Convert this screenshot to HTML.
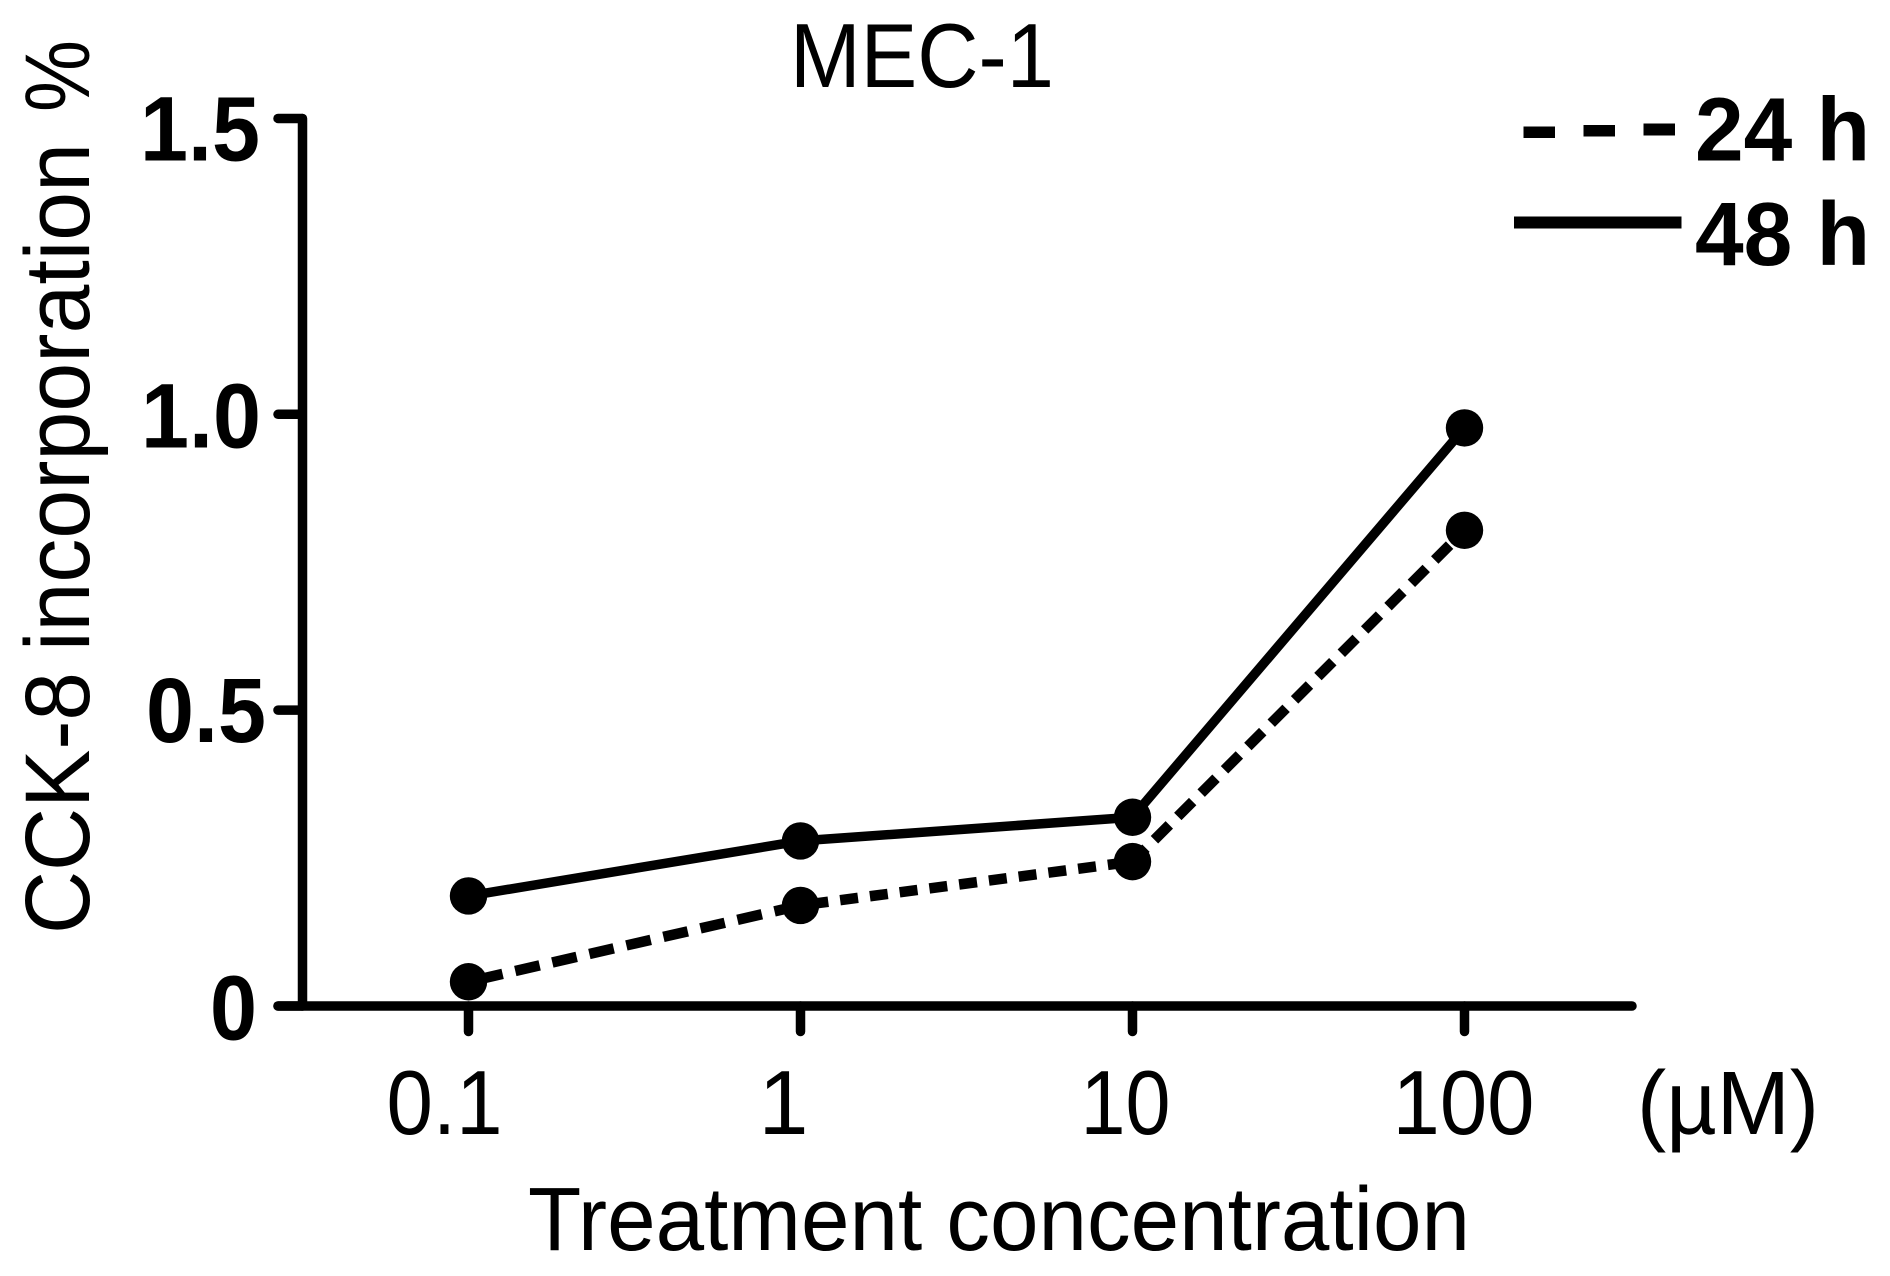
<!DOCTYPE html>
<html lang="en">
<head>
<meta charset="utf-8">
<title>MEC-1 CCK-8 incorporation</title>
<style>
html,body{margin:0;padding:0;background:#fff;width:1890px;height:1276px;overflow:hidden}
svg{display:block}
text{font-family:"Liberation Sans",Arial,sans-serif;fill:#000}
.bold{font-weight:700}
</style>
</head>
<body>
<svg id="chart" xmlns="http://www.w3.org/2000/svg" width="1890" height="1276" viewBox="0 0 1890 1276">
  <rect width="1890" height="1276" fill="#fff"/>
  <text x="790" y="87" font-size="90.5" textLength="264" lengthAdjust="spacingAndGlyphs">MEC-1</text>
  <text transform="translate(89,934) rotate(-90)" font-size="92"><tspan x="0" textLength="262" lengthAdjust="spacingAndGlyphs">CCK-8</tspan><tspan x="283" textLength="508" lengthAdjust="spacingAndGlyphs">incorporation</tspan><tspan x="822" textLength="72" lengthAdjust="spacingAndGlyphs">%</tspan></text>
  <text x="528" y="1250" font-size="90" textLength="942" lengthAdjust="spacingAndGlyphs">Treatment concentration</text>
  <text x="1637" y="1134" font-size="90" textLength="182" lengthAdjust="spacingAndGlyphs">(µM)</text>
  <g id="axes"></g>
  <g id="series"></g>
  <g>
    <g>
      <rect x="1523.5" y="126.5" width="31.5" height="11.5"/>
      <rect x="1583.5" y="125" width="31.5" height="11.5"/>
      <rect x="1643.5" y="123.5" width="31.5" height="12"/>
      <text class="bold" x="1695" y="160.5" font-size="90" textLength="175" lengthAdjust="spacingAndGlyphs">24 h</text>
    </g>
    <g>
      <rect x="1514" y="216.5" width="167.5" height="12"/>
      <text class="bold" x="1695" y="265" font-size="90" textLength="175" lengthAdjust="spacingAndGlyphs">48 h</text>
    </g>
  </g>
</svg>
<script>
const categories = ['0.1', '1', '10', '100'];
const series24h = [0.041, 0.170, 0.244, 0.804];
const series48h = [0.186, 0.279, 0.319, 0.977];
const yTickValues = [0, 0.5, 1.0, 1.5];
const yTickLabels = ['0', '0.5', '1.0', '1.5'];

const NS = 'http://www.w3.org/2000/svg';
const X0 = 468.5, X_STEP = 332, Y0 = 1006, Y_UNIT = 591.7;
function xScale(i) { return X0 + i * X_STEP; }
function yScale(v) { return Y0 - v * Y_UNIT; }

const yLabelFit = {
  '0':   { right: 257, dy: 33.5, width: 47 },
  '0.5': { right: 266, dy: 32,   width: 120 },
  '1.0': { right: 261, dy: 33,   width: 120 },
  '1.5': { right: 260, dy: 42,   width: 120 }
};
const xLabelFit = {
  '0.1': { dx: -24, width: 116 },
  '1':   { dx: -17, width: 50 },
  '10':  { dx: -7,  width: 90 },
  '100': { dx: -1,  width: 142 }
};
const dashStyles = [
  { dash: '25 13', offset: 28 },
  { dash: '18 12', offset: 20 },
  { dash: '21 12', offset: 2 }
];

function make(tag, attrs, parent) {
  const el = document.createElementNS(NS, tag);
  for (const k in attrs) el.setAttribute(k, attrs[k]);
  parent.appendChild(el);
  return el;
}

const axes = document.getElementById('axes');
const seriesLayer = document.getElementById('series');
const AXIS = { stroke: '#000', 'stroke-width': 9.5, 'stroke-linecap': 'round' };

const yAxisLine = make('line', Object.assign({ x1: 302.5, x2: 302.5, y1: yScale(1.5), y2: yScale(0) }, AXIS), axes);



const xAxisLine = make('line', Object.assign({ x1: 278, x2: 1632, y1: Y0, y2: Y0 }, AXIS), axes);



yTickValues.forEach(function (v, i) {
  const y = yScale(v);
  const label = yTickLabels[i];
  const fit = yLabelFit[label];
  const tick = make('line', Object.assign({ x1: 278, x2: 302, y1: y, y2: y }, AXIS), axes);
  
  
  const t = make('text', {
    x: fit.right - fit.width, y: y + fit.dy, 'font-size': 92, 'class': 'bold',
    textLength: fit.width, lengthAdjust: 'spacingAndGlyphs'
  }, axes);
  t.textContent = label;
  
  
});

categories.forEach(function (c, i) {
  const x = xScale(i);
  const fit = xLabelFit[c];
  const tick = make('line', Object.assign({ x1: x, x2: x, y1: Y0, y2: 1031.5 }, AXIS), axes);
  
  
  const t = make('text', {
    x: x + fit.dx - fit.width / 2, y: 1134, 'font-size': 91,
    textLength: fit.width, lengthAdjust: 'spacingAndGlyphs'
  }, axes);
  t.textContent = c;
  
  
});

series24h.slice(1).forEach(function (v, i) {
  const seg = make('line', {
    x1: xScale(i), y1: yScale(series24h[i]), x2: xScale(i + 1), y2: yScale(v),
    stroke: '#000', 'stroke-width': 10.5,
    'stroke-dasharray': dashStyles[i].dash, 'stroke-dashoffset': dashStyles[i].offset
  }, seriesLayer);
  
  
});

const line48 = make('polyline', {
  points: series48h.map(function (v, i) { return xScale(i) + ',' + yScale(v); }).join(' '),
  fill: 'none', stroke: '#000', 'stroke-width': 9.5, 'stroke-linejoin': 'round'
}, seriesLayer);



series24h.forEach(function (v, i) {
  const p = make('circle', { cx: xScale(i), cy: yScale(v), r: 18.7, fill: '#000' }, seriesLayer);
  
  
});

series48h.forEach(function (v, i) {
  const p = make('circle', { cx: xScale(i), cy: yScale(v), r: 18.7, fill: '#000' }, seriesLayer);
  
  
});
</script>
</body>
</html>
